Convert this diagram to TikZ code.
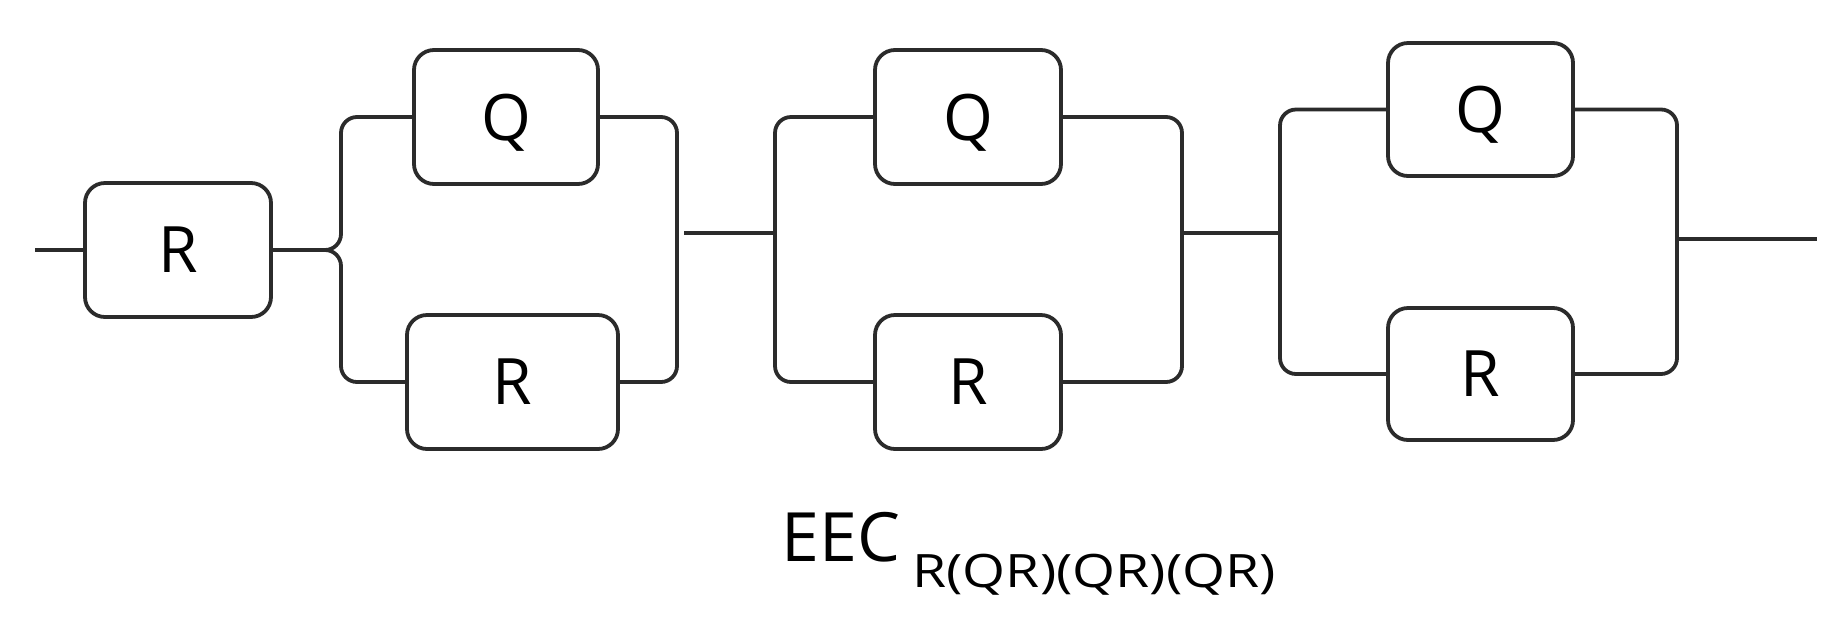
\documentclass[tikz,border=0pt]{standalone}
\usepackage{fontspec}
\setmainfont{Open Sans}
\definecolor{wire}{HTML}{2B2B2B}
\begin{document}
\begin{tikzpicture}[x=0.5pt,y=-0.5pt,line width=1.9pt,draw=wire,
    elem/.style={draw=wire,rounded corners=10pt,inner sep=0pt,text depth=0pt,
      minimum width=93pt,minimum height=67pt,font=\fontsize{32}{32}\selectfont}]
  \useasboundingbox (0,0) rectangle (1830,617);
  \draw
    (178,250) node[elem] (r0){R}
    (506,117) node[elem,minimum width=92pt] (q1){Q}
    (512.5,382) node[elem,minimum width=105.5pt] (r1){R}
    (968,117) node[elem] (q2){Q}
    (968,382) node[elem] (r2){R}
    (1480.5,109.5) node[elem,minimum width=92.5pt,minimum height=66.5pt] (q3){Q}
    (1480.5,374) node[elem,minimum width=92.5pt,minimum height=66pt] (r3){R};
  \coordinate (in) at (35,250);
  \coordinate (s1) at (341,250);
  \coordinate (m1) at (677,250);
  \coordinate (c1) at (684,233);
  \coordinate (j2) at (775,233);
  \coordinate (m2) at (1182,233);
  \coordinate (j3) at (1280,233);
  \coordinate (m3) at (1677,239);
  \coordinate (out) at (1817,239);
  \begin{scope}[rounded corners=8pt]
    \draw (in) -- (r0);
    \draw (r0) -- (s1) |- (q1);
    \draw (r0) -- (s1) |- (r1);
    \draw (q1) -| (m1) |- (r1);
    \draw (c1) -- (j2);
    \draw (q2) -| (j2) |- (r2);
    \draw (q2) -| (m2) |- (r2);
    \draw (m2) -- (j3);
    \draw (q3) -| (j3) |- (r3);
    \draw (q3) -| (m3) |- (r3);
    \draw (m3) -- (out);
  \end{scope}
  \node[anchor=base west,inner sep=0pt] (eec) at (780,561)
    {{\fontsize{34}{34}\selectfont EEC}\hspace{6pt}\raisebox{-13pt}{\scalebox{1.2}[1]{\fontsize{23}{23}\selectfont R(QR)(QR)(QR)}}};
\end{tikzpicture}
\end{document}
